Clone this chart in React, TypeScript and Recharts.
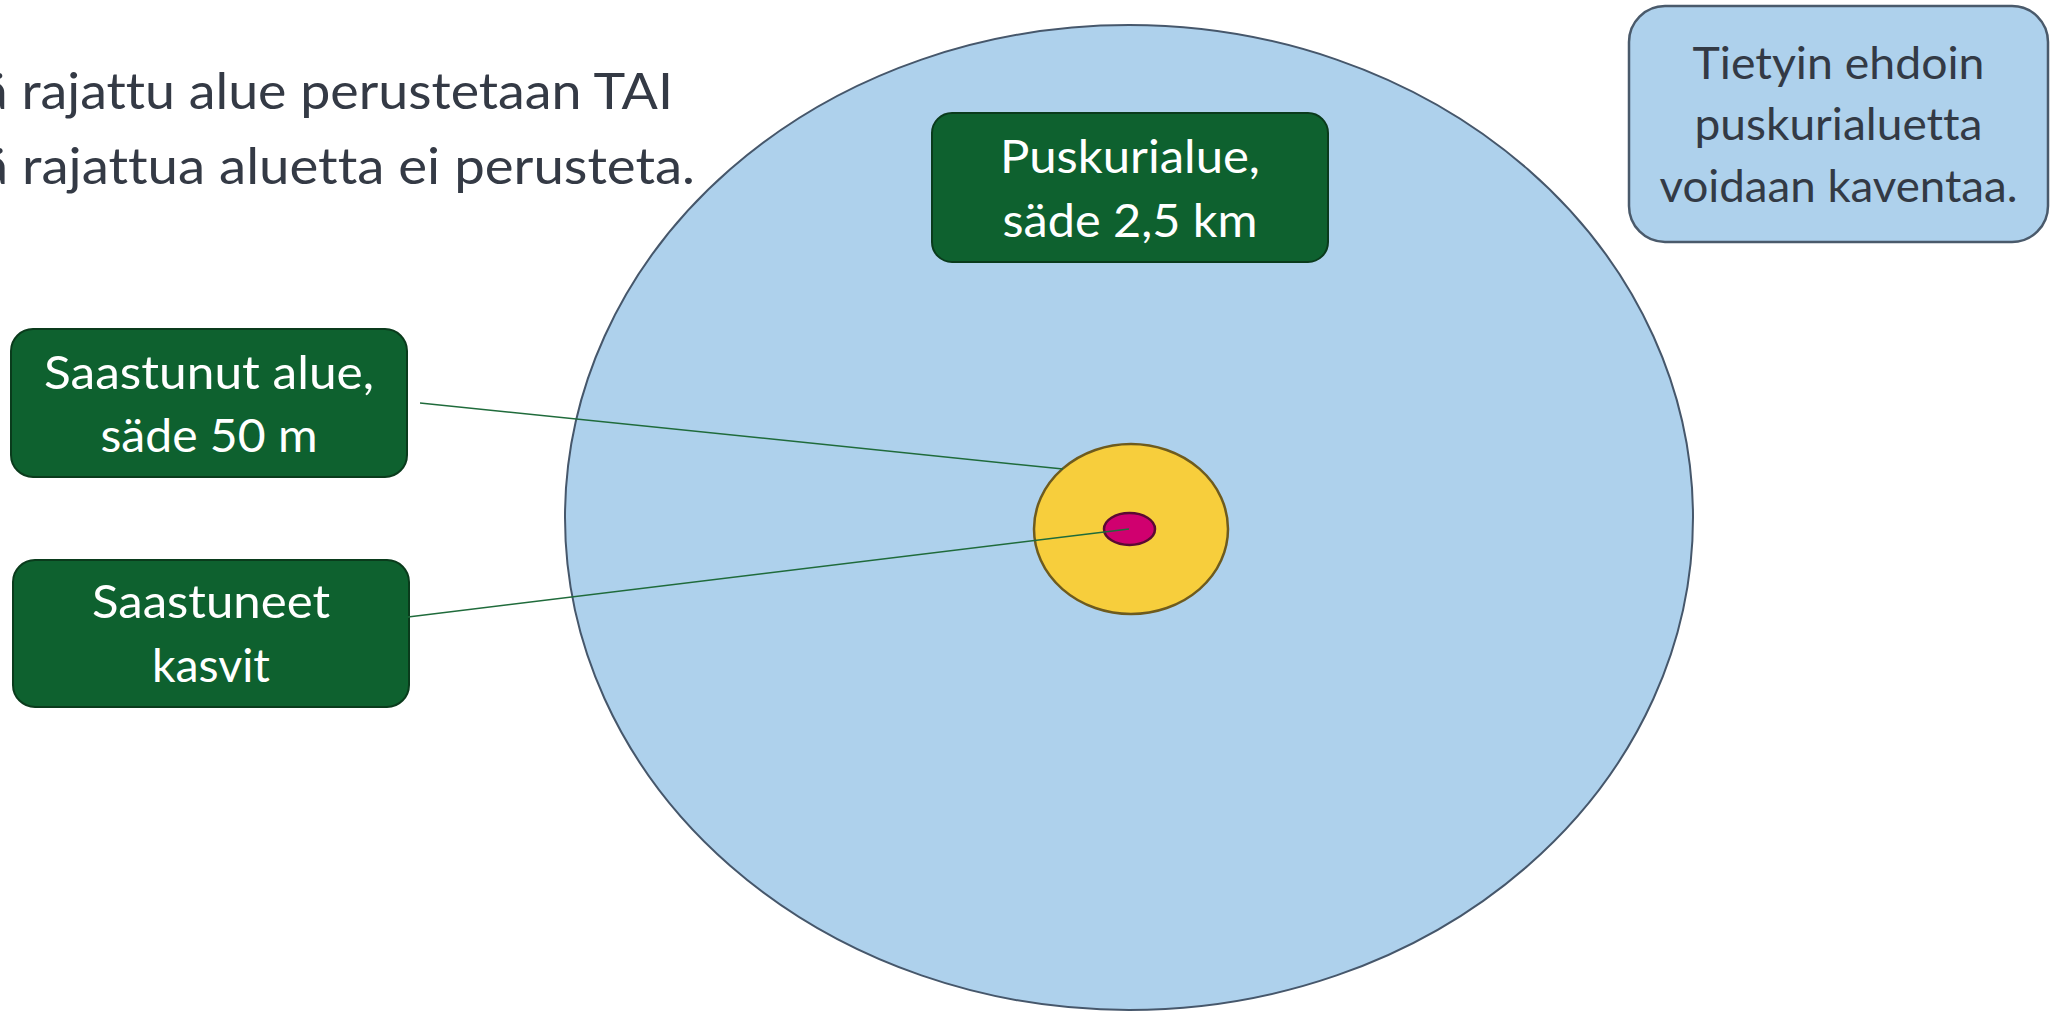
import React from 'react';
import { ScatterChart, XAxis, YAxis, ReferenceArea, ReferenceLine, Scatter } from 'recharts';

const W = 2057;
const H = 1012;

// Concentric zones (ellipse bounding boxes in diagram coordinates)
const zoneNames = ['Puskurialue', 'Saastunut alue', 'Saastuneet kasvit'];
const zoneX = [[565, 1693], [1034, 1228], [1104, 1155]];
const zoneY = [[25, 1010], [444, 614], [513, 545]];

// Label boxes
const boxIds = ['puskuri', 'saastunut', 'kasvit', 'ehdot'];
const boxLines = [
  ['Puskurialue,', 'säde 2,5 km'],
  ['Saastunut alue,', 'säde 50 m'],
  ['Saastuneet', 'kasvit'],
  ['Tietyin ehdoin', 'puskurialuetta', 'voidaan kaventaa.'],
];
const boxX = [[932, 1328], [11, 407], [13, 409], [1629, 2048]];
const boxY = [[113, 262], [329, 477], [560, 707], [6, 242]];

// Leader lines
const leaderFrom = [[420, 403], [408, 617]];
const leaderTo = [[1063, 469], [1129, 529]];

// Heading text (cut off at the left edge)
const headingLines = ['ä rajattu alue perustetaan TAI', 'ä rajattua aluetta ei perusteta.'];
const headingBaselines = [109, 184];

// ---- styles ----
const zoneStyle = [
  { fill: '#AED1EC', stroke: '#46576B', strokeWidth: 2 },
  { fill: '#F7CE3C', stroke: '#6E5B1E', strokeWidth: 2.5 },
  { fill: '#D0006F', stroke: '#5B0A33', strokeWidth: 2.5 },
];
const boxStyle = [
  { fill: '#0E612F', stroke: '#0A3B1C', strokeWidth: 2, rx: 20, color: '#FFFFFF', fontSize: 47, lineH: 64, dy: 17, widths: [260, 255] },
  { fill: '#0E612F', stroke: '#0A3B1C', strokeWidth: 2, rx: 22, color: '#FFFFFF', fontSize: 47, lineH: 63, dy: 17, widths: [330, 217] },
  { fill: '#0E612F', stroke: '#0A3B1C', strokeWidth: 2, rx: 22, color: '#FFFFFF', fontSize: 47, lineH: 64, dy: 16, widths: [238, 118] },
  { fill: '#AED1EC', stroke: '#4A5A6B', strokeWidth: 2.5, rx: 36, color: '#333A45', fontSize: 44, lineH: 61.5, dy: 16, widths: [292, 288, 358] },
];
const headingStyle = { x: -19, widths: [692, 714], fontSize: 49.5, color: '#343A45' };
const FONT = 'Lato, "Open Sans", "DejaVu Sans", sans-serif';
const noLig: React.CSSProperties = { fontVariantLigatures: 'none', fontFeatureSettings: '"liga" 0, "clig" 0' };

const EllipseShape = (style: any) => (props: any) => {
  const { x, y, width, height } = props;
  if (x == null || width == null) return <g />;
  return (
    <ellipse
      cx={x + width / 2}
      cy={y + height / 2}
      rx={Math.abs(width) / 2}
      ry={Math.abs(height) / 2}
      fill={style.fill}
      stroke={style.stroke}
      strokeWidth={style.strokeWidth}
    />
  );
};

const BoxShape = (lines: string[], style: any) => (props: any) => {
  const { x, y, width, height } = props;
  if (x == null || width == null) return <g />;
  const cx = x + width / 2;
  const cy = y + height / 2;
  const n = lines.length;
  return (
    <g>
      <rect
        x={x}
        y={y}
        width={width}
        height={height}
        rx={style.rx}
        ry={style.rx}
        fill={style.fill}
        stroke={style.stroke}
        strokeWidth={style.strokeWidth}
      />
      {lines.map((t, i) => (
        <text
          key={i}
          x={cx}
          y={cy + (i - (n - 1) / 2) * style.lineH + style.dy}
          textAnchor="middle"
          fontFamily={FONT}
          fontSize={style.fontSize}
          fill={style.color}
          textLength={style.widths[i]}
          lengthAdjust="spacingAndGlyphs"
          style={noLig}
        >
          {t}
        </text>
      ))}
    </g>
  );
};

const HeadingShape = (props: any) => {
  const { x } = props;
  if (x == null) return <g />;
  return (
    <g>
      {headingLines.map((t, i) => (
        <text
          key={i}
          x={x}
          y={headingBaselines[i]}
          textAnchor="start"
          fontFamily={FONT}
          fontSize={headingStyle.fontSize}
          fill={headingStyle.color}
          textLength={headingStyle.widths[i]}
          lengthAdjust="spacingAndGlyphs"
          style={noLig}
        >
          {t}
        </text>
      ))}
    </g>
  );
};

const centers = zoneNames.map((name, i) => ({
  name,
  x: (zoneX[i][0] + zoneX[i][1]) / 2,
  y: (zoneY[i][0] + zoneY[i][1]) / 2,
}));

export default function App() {
  return (
    <div style={{ position: 'absolute', left: 0, top: 0, width: W, height: H, overflow: 'hidden', background: '#ffffff' }}>
      <ScatterChart width={W} height={H} margin={{ top: 0, right: 0, bottom: 0, left: 0 }}>
        <XAxis type="number" dataKey="x" domain={[0, W]} allowDataOverflow hide />
        <YAxis type="number" dataKey="y" domain={[0, H]} allowDataOverflow reversed hide />
        <Scatter data={centers} isAnimationActive={false} shape={() => <g />} />
        <ReferenceArea
          x1={headingStyle.x}
          x2={headingStyle.x + 700}
          y1={60}
          y2={200}
          ifOverflow="visible"
          shape={HeadingShape}
        />
        {zoneNames.map((name, i) => (
          <ReferenceArea
            key={name}
            x1={zoneX[i][0]}
            x2={zoneX[i][1]}
            y1={zoneY[i][0]}
            y2={zoneY[i][1]}
            ifOverflow="visible"
            shape={EllipseShape(zoneStyle[i])}
          />
        ))}
        {leaderFrom.map((p, i) => (
          <ReferenceLine
            key={'l' + i}
            segment={[{ x: p[0], y: p[1] }, { x: leaderTo[i][0], y: leaderTo[i][1] }]}
            stroke="#1F6B3B"
            strokeWidth={1.5}
            ifOverflow="visible"
          />
        ))}
        {boxIds.map((id, i) => (
          <ReferenceArea
            key={id}
            x1={boxX[i][0]}
            x2={boxX[i][1]}
            y1={boxY[i][0]}
            y2={boxY[i][1]}
            ifOverflow="visible"
            shape={BoxShape(boxLines[i], boxStyle[i])}
          />
        ))}
      </ScatterChart>
    </div>
  );
}
